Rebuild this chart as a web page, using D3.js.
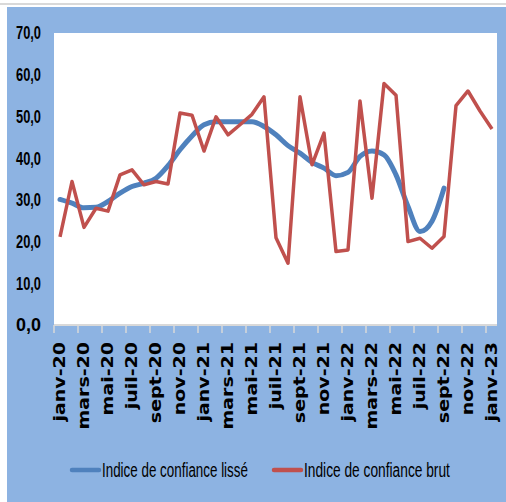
<!DOCTYPE html>
<html><head><meta charset="utf-8">
<script src="https://cdn.jsdelivr.net/npm/d3@7"></script>
<style>html,body{margin:0;padding:0;background:#fff}svg{display:block}</style>
</head><body>
<svg id="c" width="506" height="502"></svg>
<script>
const months = ["janv","févr","mars","avr","mai","juin","juil","août","sept","oct","nov","déc"];
const categories = [];
for (let y = 20; y <= 23; y++) for (let m = 0; m < 12; m++) { if (y === 23 && m > 0) break; categories.push(months[m] + "-" + y); }
const brut = [21.1,34.4,23.4,28.0,27.3,36.0,37.2,33.6,34.4,33.8,50.8,50.3,41.7,49.9,45.6,48.0,50.5,54.7,20.9,14.8,54.7,38.4,46.0,17.6,18.0,53.7,30.4,57.9,55.1,20.0,20.8,18.4,21.2,52.6,56.1,51.3,47.0];
const lisse = [30.1,29.2,28.1,28.2,29.6,31.6,33.2,34.0,35.2,38.2,42.0,45.3,48.0,48.7,48.7,48.7,48.7,47.6,45.6,43.0,41.2,39.0,37.6,35.8,36.6,40.4,41.7,40.8,36.0,28.4,22.4,24.9,32.8];
const yTicks = [0,10,20,30,40,50,60,70];
const seriesNames = ["Indice de confiance lissé","Indice de confiance brut"];
const colors = ["#4F81BD","#C0504D"];

const svg = d3.select("#c");
svg.append("rect").attr("x",0).attr("y",0).attr("width",506).attr("height",502).attr("fill","#fff");
svg.append("rect").attr("x",0).attr("y",3).attr("width",506).attr("height",2).attr("fill","#d9d9d9");
svg.append("rect").attr("x",7).attr("y",7).attr("width",499).attr("height",495).attr("fill","#8DB3E2");

const x = d3.scaleBand().domain(categories).range([54,498]).padding(0);
const y = d3.scaleLinear().domain([0,70]).range([325,33]);
const cx = c => x(c) + x.bandwidth()/2;

svg.append("rect").attr("x",54).attr("y",33).attr("width",443).attr("height",292).attr("fill","#fff");

// helper: squeeze text horizontally to a target width
function fitWidth(sel, target) {
  sel.each(function(){
    const w = this.getComputedTextLength();
    const s = target / w;
    const t = d3.select(this);
    const ax = +t.attr("x"), ay = +t.attr("y");
    t.attr("transform", `translate(${ax},${ay}) scale(${s},1) translate(${-ax},${-ay})`);
  });
}

// y labels
const yl = svg.append("g").selectAll("text").data(yTicks).join("text")
  .attr("x",41).attr("y",d=>y(d)).attr("dy","0.36em")
  .attr("text-anchor","end")
  .attr("font-family","Liberation Sans, Arial, sans-serif").attr("font-weight","bold").attr("font-size",18)
  .attr("fill","#000")
  .text(d=>d.toFixed(1).replace(".",","));
fitWidth(yl, 25);

// x axis line and ticks
svg.append("line").attr("x1",54).attr("x2",497).attr("y1",325).attr("y2",325).attr("stroke","#d9d9d9").attr("stroke-width",2);
const tickIdx = d3.range(0, categories.length, 2);
svg.append("g").selectAll("line").data(tickIdx).join("line")
  .attr("x1",i=>x(categories[i])).attr("x2",i=>x(categories[i]))
  .attr("y1",325).attr("y2",333).attr("stroke","#d9d9d9").attr("stroke-width",1.5);

// x labels
svg.append("g").selectAll("text").data(tickIdx).join("text")
  .attr("transform",i=>`translate(${cx(categories[i])},342) rotate(-90) scale(1,0.8)`)
  .attr("dy","0.35em").attr("text-anchor","end")
  .attr("font-family","DejaVu Sans, sans-serif").attr("font-weight","bold").attr("font-size",19)
  .attr("fill","#000")
  .text(i=>categories[i]);

// lines
const lineB = d3.line().x((d,i)=>cx(categories[i])).y(d=>y(d));
const lineL = d3.line().x((d,i)=>cx(categories[i])).y(d=>y(d)).curve(d3.curveMonotoneX);
svg.append("path").datum(lisse).attr("d",lineL).attr("fill","none").attr("stroke",colors[0]).attr("stroke-width",5).attr("stroke-linejoin","round").attr("stroke-linecap","round");
svg.append("path").datum(brut).attr("d",lineB).attr("fill","none").attr("stroke",colors[1]).attr("stroke-width",3.5).attr("stroke-linejoin","round");

// legend
const legX = [72, 274];
seriesNames.forEach((n,k)=>{
  svg.append("line").attr("x1",legX[k]).attr("x2",legX[k]+27).attr("y1",470).attr("y2",470).attr("stroke",colors[k]).attr("stroke-width",4.5).attr("stroke-linecap","round");
  const t = svg.append("text").attr("x",legX[k]+30).attr("y",470).attr("dy","0.35em")
    .attr("font-family","Liberation Sans, Arial, sans-serif").attr("font-size",21).attr("fill","#000")
    .text(n);
  fitWidth(t, 146);
});
</script>
</body></html>
